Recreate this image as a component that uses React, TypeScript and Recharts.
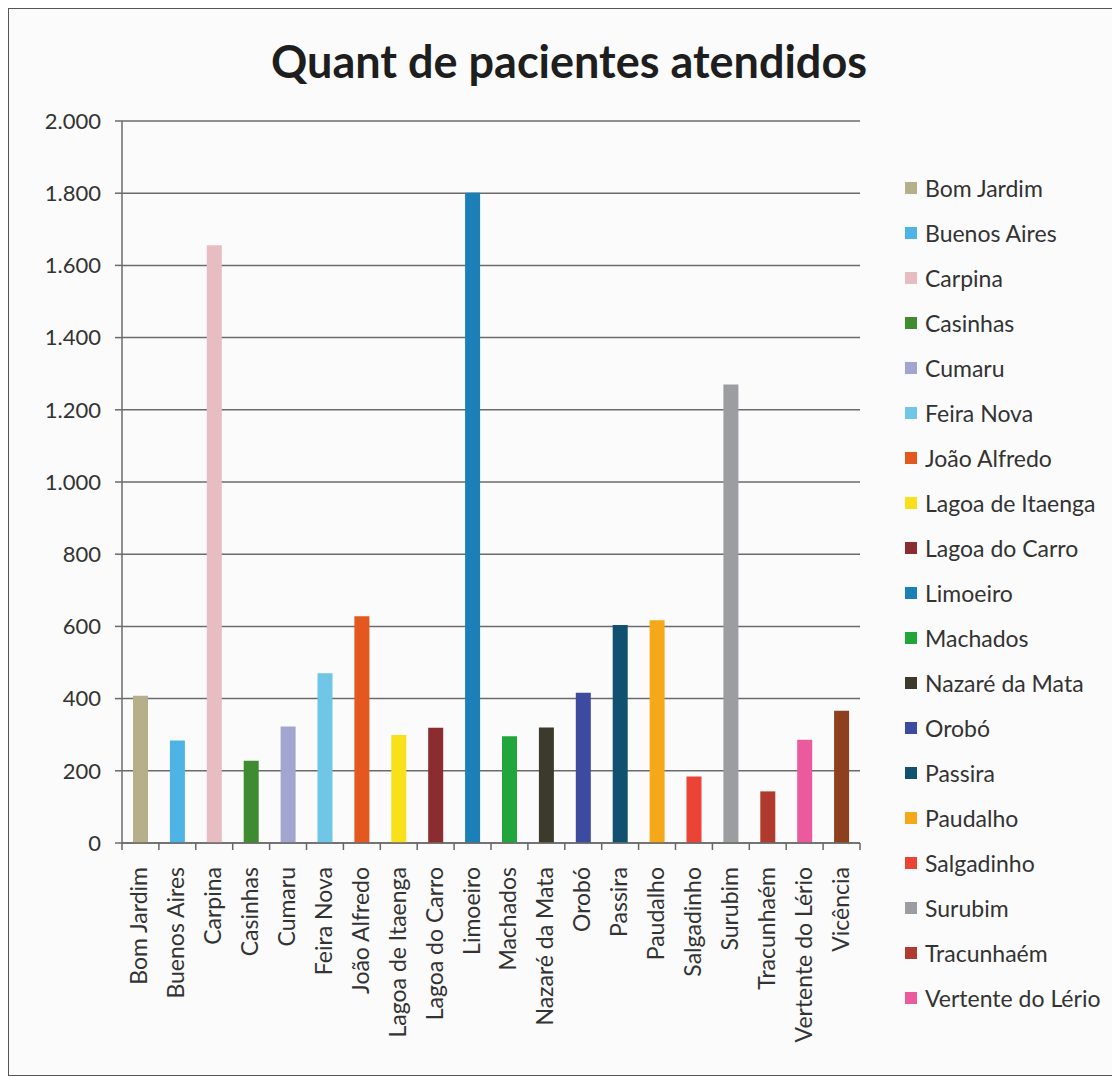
import { Bar, BarChart, CartesianGrid, Cell, XAxis, YAxis } from "recharts";

const cities = [
  "Bom Jardim",
  "Buenos Aires",
  "Carpina",
  "Casinhas",
  "Cumaru",
  "Feira Nova",
  "João Alfredo",
  "Lagoa de Itaenga",
  "Lagoa do Carro",
  "Limoeiro",
  "Machados",
  "Nazaré da Mata",
  "Orobó",
  "Passira",
  "Paudalho",
  "Salgadinho",
  "Surubim",
  "Tracunhaém",
  "Vertente do Lério",
  "Vicência",
];

const patients = [
  408, 284, 1656, 228, 323, 470, 628, 299, 319, 1801,
  296, 320, 416, 604, 617, 184, 1270, 143, 286, 366,
];

const cityColors = [
  "#b6b08a", "#4eb4e6", "#e8bcc3", "#3f8b30", "#a2a5cf",
  "#6fc6e6", "#e2581f", "#f8e11b", "#8b2c30", "#1b80b8",
  "#21a63b", "#3c3b2b", "#3c4a9f", "#11506e", "#f6a81b",
  "#ec4337", "#9c9da1", "#b03a2d", "#ea5a9d", "#8d3f1e",
];

const yTicks = [0, 200, 400, 600, 800, 1000, 1200, 1400, 1600, 1800, 2000];

// legend in the source stops at Vertente do Lério (Vicência is cut off)
const legendCount = 19;

const data = cities.map((name, i) => ({ name, value: patients[i] }));

const FONT = "Lato, 'Open Sans', sans-serif";
const TEXT = "#333";
const W = 1108;
const H = 1066;
const MARGIN = { top: 112, right: 257, bottom: 32, left: 0 };
const Y_W = 113;
const BAND = (W - MARGIN.left - MARGIN.right - Y_W) / cities.length;

const fmt = (v: number) => String(v).replace(/\B(?=(\d{3})+(?!\d))/g, ".");

function CityTick(props: any) {
  const { x, y, payload, index } = props;
  const last = index === cities.length - 1;
  return (
    <g>
      <line x1={x - BAND / 2} x2={x - BAND / 2} y1={y} y2={y + 7} stroke="#666" strokeWidth={1.5} />
      {last && (
        <line x1={x + BAND / 2} x2={x + BAND / 2} y1={y} y2={y + 7} stroke="#666" strokeWidth={1.5} />
      )}
      <text
        transform={`translate(${x + 7},${y + 24}) rotate(-90)`}
        textAnchor="end"
        fontFamily={FONT}
        fontSize={23}
        fill={TEXT}
      >
        {payload.value}
      </text>
    </g>
  );
}

export default function App() {
  return (
    <div
      style={{
        position: "relative",
        width: W,
        height: H,
        border: "1px solid #555",
        background: "#fbfbfb",
        fontFamily: FONT,
      }}
    >
      <div
        style={{
          position: "absolute",
          top: 30,
          left: 0,
          width: 1120,
          textAlign: "center",
          fontSize: 45,
          lineHeight: 1,
          fontWeight: 700,
          color: "#1e1e1e",
        }}
      >
        Quant de pacientes atendidos
      </div>
      <BarChart width={W} height={H} data={data} margin={MARGIN} barSize={15}>
        <CartesianGrid vertical={false} stroke="#6b6b6b" strokeWidth={1.5} />
        <XAxis
          dataKey="name"
          interval={0}
          height={200}
          tickSize={0}
          tickMargin={0}
          tickLine={false}
          axisLine={{ stroke: "#6b6b6b", strokeWidth: 1.5 }}
          tick={<CityTick />}
        />
        <YAxis
          width={Y_W}
          domain={[0, 2000]}
          ticks={yTicks}
          interval={0}
          tickFormatter={fmt}
          tickSize={7}
          tickMargin={14}
          axisLine={{ stroke: "#6b6b6b", strokeWidth: 1.5 }}
          tickLine={{ stroke: "#6b6b6b", strokeWidth: 1.5 }}
          tick={{ fontFamily: FONT, fontSize: 22, fill: TEXT }}
        />
        <Bar dataKey="value" isAnimationActive={false}>
          {data.map((d, i) => (
            <Cell key={d.name} fill={cityColors[i]} />
          ))}
        </Bar>
      </BarChart>
      <ul
        style={{
          position: "absolute",
          left: 896,
          top: 156,
          margin: 0,
          padding: 0,
          listStyle: "none",
        }}
      >
        {cities.slice(0, legendCount).map((name, i) => (
          <li
            key={name}
            style={{
              display: "flex",
              alignItems: "center",
              height: 45.06,
              fontSize: 23,
              color: TEXT,
              whiteSpace: "nowrap",
            }}
          >
            <span
              style={{
                width: 12,
                height: 12,
                marginRight: 8,
                background: cityColors[i],
                flexShrink: 0,
              }}
            />
            {name}
          </li>
        ))}
      </ul>
    </div>
  );
}
